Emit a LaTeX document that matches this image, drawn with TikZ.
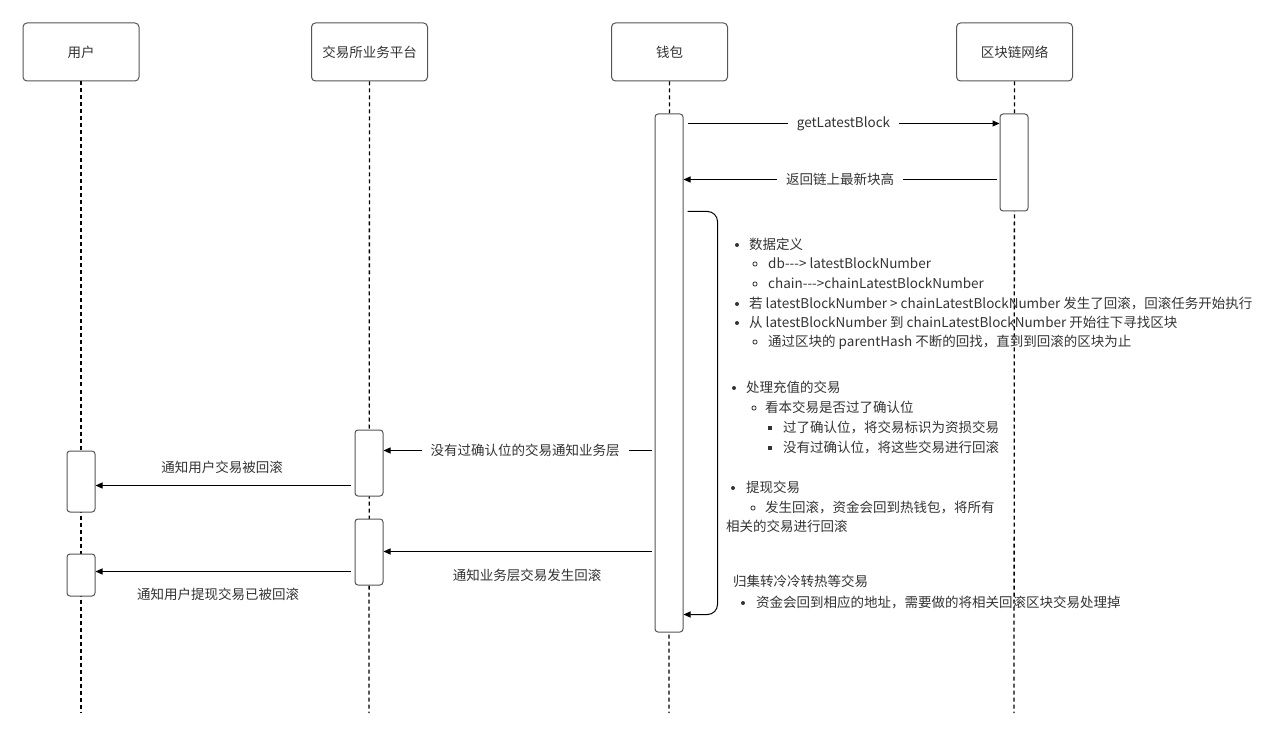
\documentclass[tikz,border=0pt]{standalone}
\usepackage{fontspec}
\setmainfont{Noto Sans CJK SC}
\usetikzlibrary{calc,arrows.meta}
\definecolor{txt}{HTML}{333333}
\definecolor{bd}{HTML}{555555}
\begin{document}
\begin{tikzpicture}[x=1pt,y=-1pt,
  actor/.style={draw=bd, line width=1pt, rounded corners=4pt, minimum width=116pt, minimum height=58pt, fill=white, text=txt, font=\fontsize{13.5}{16}\selectfont, inner sep=0pt},
  act/.style={draw=bd, line width=1pt, rounded corners=3pt, minimum width=28pt, fill=white, inner sep=0pt},
  life/.style={line width=1.3pt, dash pattern=on 4pt off 3pt},
  msg/.style={line width=1pt, -{Triangle[length=7pt,width=6pt]}},
  lbl/.style={text=txt, font=\fontsize{13.5}{16}\selectfont, inner sep=0pt},
  gap/.style={lbl, fill=white, inner xsep=9pt, inner ysep=3pt},
  item/.style={text=txt, font=\fontsize{13.5}{16}\selectfont, anchor=base west, inner sep=0pt},
  dotb/.style={circle, fill=txt, inner sep=0pt, minimum size=4pt},
  circb/.style={circle, draw=txt, line width=0.8pt, inner sep=0pt, minimum size=4.2pt},
  sqb/.style={rectangle, fill=txt, inner sep=0pt, minimum size=4.2pt}]
\useasboundingbox (0,0) rectangle (1280,735);

% actors
\node[actor] (user) at (81,52) {用户};
\node[actor] (ex) at (369.5,52) {交易所业务平台};
\node[actor] (wal) at (669.5,52) {钱包};
\node[actor] (chain) at (1014.5,52) {区块链网络};

% lifelines
\coordinate (userEnd) at (81,713);
\coordinate (exEnd) at (369,713);
\coordinate (walEnd) at (669,713);
\coordinate (chainEnd) at (1014,713);
\draw[life] (user.south) -- (userEnd);
\draw[life] (ex.south) -- (exEnd);
\draw[life] (wal.south) -- (walEnd);
\draw[life] (chain.south) -- (chainEnd);

% activations
\node[act, minimum height=518pt] (wa) at (669,373) {};
\node[act, minimum height=97pt] (ca) at (1014,162.5) {};
\node[act, minimum height=66pt] (e1) at (369,463) {};
\node[act, minimum height=66pt] (e2) at (369,552) {};
\node[act, minimum height=61pt] (u1) at (81,481.5) {};
\node[act, minimum height=42pt] (u2) at (81,575) {};

% messages
\draw[msg] ($(wa.north east)+(4,10)$) -- node[gap] (l1) {getLatestBlock} ($(ca.north west)+(0,10)$);
\draw[msg] ($(ca.north west)+(-3,66)$) -- node[gap] (l2) {返回链上最新块高} ($(wa.north east)+(0,66)$);
\draw[msg, rounded corners=10pt] ($(wa.north east)+(4,98)$) -- ++(30,0) -- ++(0,403) -- ($(wa.north east)+(0,501)$);
\draw[msg] ($(wa.north west)+(-3,337)$) -- node[gap, pos=0.472] (l3) {没有过确认位的交易通知业务层} ($(e1.north east)+(0,21)$);
\draw[msg] ($(wa.north west)+(-3,438)$) -- ($(e2.north east)+(0,33)$);
\node[lbl] (l4) at (527,575) {通知业务层交易发生回滚};
\draw[msg] ($(e1.north west)+(-4,56)$) -- ($(u1.north east)+(0,35)$);
\node[lbl] (l5) at (222,467) {通知用户交易被回滚};
\draw[msg] ($(e2.north west)+(-4,53)$) -- ($(u2.north east)+(0,18)$);
\node[lbl] (l6) at (218,594) {通知用户提现交易已被回滚};

% note text
\node[dotb] (b1) at (737,245) {};
\node[item] (t1) at (749,249.8) {数据定义};
\node[circb] (b2) at (755,264) {};
\node[item] (t2) at (768,268.8) {db-{}-{}-> latestBlockNumber};
\node[circb] (b3) at (755,284) {};
\node[item] (t3) at (768,288.8) {chain-{}-{}->chainLatestBlockNumber};
\node[dotb] (b4) at (737,304) {};
\node[item] (t4) at (749,308.8) {若 latestBlockNumber > chainLatestBlockNumber 发生了回滚，回滚任务开始执行};
\node[dotb] (b5) at (737,323) {};
\node[item] (t5) at (749,327.8) {从 latestBlockNumber 到 chainLatestBlockNumber 开始往下寻找区块};
\node[circb] (b6) at (755,342) {};
\node[item] (t6) at (768,346.8) {通过区块的 parentHash 不断的回找，直到到回滚的区块为止};
\node[dotb] (b7) at (734,388) {};
\node[item] (t7) at (746,392.8) {处理充值的交易};
\node[circb] (b8) at (754,408) {};
\node[item] (t8) at (765,412.8) {看本交易是否过了确认位};
\node[sqb] (b9) at (770,428) {};
\node[item] (t9) at (783,432.8) {过了确认位，将交易标识为资损交易};
\node[sqb] (b10) at (770,448) {};
\node[item] (t10) at (783,452.8) {没有过确认位，将这些交易进行回滚};
\node[dotb] (b11) at (733,488) {};
\node[item] (t11) at (746,492.8) {提现交易};
\node[circb] (b12) at (753,508) {};
\node[item] (t12) at (765,512.8) {发生回滚，资金会回到热钱包，将所有};
\node[item] (t13) at (726,531.8) {相关的交易进行回滚};
\node[item] (t14) at (733,586.8) {归集转冷冷转热等交易};
\node[dotb] (b15) at (743,603) {};
\node[item] (t15) at (756,607.8) {资金会回到相应的地址，需要做的将相关回滚区块交易处理掉};
\end{tikzpicture}
\end{document}
